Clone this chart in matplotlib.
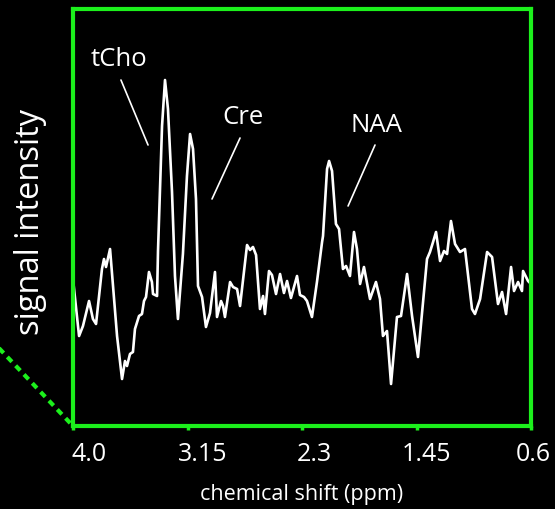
import numpy as np
import matplotlib
matplotlib.use('Agg')
from matplotlib import pyplot as plt
from matplotlib import transforms
from matplotlib.lines import Line2D

plt.rcParams['font.family'] = ['Open Sans', 'DejaVu Sans']

# spectrum (ppm, arbitrary intensity)
ppm = [4.000, 3.955, 3.926, 3.881, 3.852, 3.829, 3.785, 3.770, 3.755, 3.725,
       3.673, 3.636, 3.614, 3.599, 3.577, 3.555, 3.540, 3.510, 3.488, 3.473,
       3.458, 3.436, 3.414, 3.406, 3.376, 3.369, 3.339, 3.317, 3.295, 3.265,
       3.243, 3.221, 3.184, 3.154, 3.131, 3.109, 3.087, 3.072, 3.042, 3.013,
       2.983, 2.946, 2.931, 2.901, 2.886, 2.872, 2.834, 2.812, 2.782, 2.760,
       2.708, 2.686, 2.664, 2.641, 2.612, 2.589, 2.575, 2.545, 2.523, 2.493,
       2.463, 2.434, 2.411, 2.382, 2.337, 2.315, 2.285, 2.263, 2.226, 2.189,
       2.151, 2.144, 2.114, 2.099, 2.077, 2.048, 2.025, 1.996, 1.973, 1.944,
       1.914, 1.892, 1.869, 1.840, 1.795, 1.751, 1.721, 1.699, 1.669, 1.639,
       1.595, 1.565, 1.520, 1.483, 1.439, 1.372, 1.350, 1.327, 1.305, 1.275,
       1.246, 1.223, 1.194, 1.164, 1.127, 1.090, 1.038, 1.016, 0.978, 0.926,
       0.889, 0.845, 0.815, 0.785, 0.748, 0.726, 0.696, 0.667, 0.659, 0.622,
       0.600]
signal = [147, 90, 100, 125, 107, 102, 157, 167, 159, 177,
          90, 47, 65, 60, 72, 74, 97, 110, 112, 125,
          129, 154, 144, 132, 130, 175, 300, 346, 317, 234,
          150, 107, 172, 250, 292, 277, 227, 140, 129, 99,
          113, 154, 109, 125, 120, 109, 144, 139, 137, 120,
          181, 176, 179, 171, 117, 130, 112, 155, 151, 132,
          152, 133, 145, 128, 150, 131, 129, 125, 109, 144,
          184, 190, 257, 265, 255, 202, 197, 157, 160, 150,
          194, 177, 142, 159, 127, 144, 127, 90, 95, 42,
          109, 110, 152, 110, 69, 167, 174, 184, 194, 165,
          175, 172, 205, 182, 174, 177, 117, 112, 127, 174,
          169, 122, 134, 112, 159, 135, 144, 135, 155, 145,
          142]

tick_vals = [4.0, 3.15, 2.3, 1.45, 0.6]
tick_text = ['4.0', '3.15', '2.3', '1.45', '0.6']

# peak labels: name, text position, line start, line end
peaks = ['tCho', 'Cre', 'NAA']
peak_text_xy = [(3.659, 368), (2.738, 310), (1.751, 302)]
peak_line_from = [(3.644, 346), (2.760, 288), (1.758, 281)]
peak_line_to = [(3.443, 281), (2.968, 227), (1.958, 220)]

green = '#1cf01c'

fig = plt.figure(figsize=(5.55, 5.10), dpi=100, facecolor='black')
ax = fig.add_axes([73/555, 83/510, 458/555, 417/510], facecolor='black')

ax.plot(ppm, signal, color='white', lw=1.9, solid_joinstyle='round')
ax.set_xlim(4.0, 0.6)
ax.set_ylim(0, 417)

for name, txy, a, b in zip(peaks, peak_text_xy, peak_line_from, peak_line_to):
    ax.text(txy[0], txy[1], name, color='white', fontsize=18.5, ha='center', va='center')
    ax.annotate('', xy=b, xytext=a,
                arrowprops=dict(arrowstyle='-', color='white', lw=1.2, shrinkA=0, shrinkB=0))

for s in ax.spines.values():
    s.set_color(green)
    s.set_linewidth(3)

ax.set_yticks([])
ax.set_xticks(tick_vals, tick_text)
ax.tick_params(axis='x', colors=green, length=3, width=2.5, pad=8, labelsize=18, labelcolor='white')

# labels sit a little right of their ticks in the original
shifts = [16, 15, 12, 10, 2]
for lab, dx in zip(ax.get_xticklabels(), shifts):
    lab.set_transform(lab.get_transform() + transforms.ScaledTranslation(dx/100, 0, fig.dpi_scale_trans))

ax.set_xlabel('chemical shift (ppm)', color='white', fontsize=15.5, labelpad=12)
fig.text(31/555, 1 - 222/510, 'signal intensity', color='white', fontsize=23.5,
         rotation=90, ha='center', va='center')

fig.add_artist(Line2D([-5/555, 73/555], [1 - 345/510, 1 - 427/510], color=green,
                      lw=3, ls=(0, (1.6, 1.3)), transform=fig.transFigure, clip_on=False))

plt.savefig('out.png', dpi=100, facecolor='black')
